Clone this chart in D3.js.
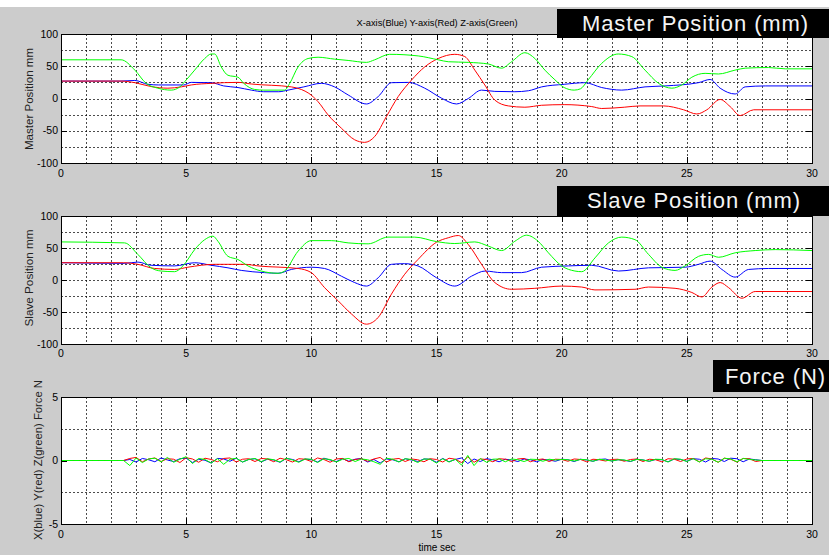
<!DOCTYPE html>
<html><head><meta charset="utf-8">
<script src="https://cdn.jsdelivr.net/npm/d3@7"></script>
<style>
html,body{margin:0;padding:0;background:#cccccc;}
svg{display:block;font-family:"Liberation Sans",Arial,sans-serif;}
.narrow{font-family:"Liberation Sans Narrow","Liberation Sans",Arial,sans-serif;}
</style></head>
<body><svg id="chart" width="829" height="555"></svg>
<script>
// ---------------- data ----------------
const timeTicks = [0,5,10,15,20,25,30];
const posTicks = [100,50,0,-50,-100];
const forceTicks = [5,0,-5];
const seriesColors = {x:"#0000ff", y:"#ff0000", z:"#00ff00"};
const legendText = "X-axis(Blue) Y-axis(Red) Z-axis(Green)";
const titles = ["Master Position (mm)","Slave Position (mm)","Force (N)"];
const yLabels = ["Master Position mm","Slave Position mm","X(blue) Y(red) Z(green) Force N"];
const xLabel = "time sec";

const masterX = [[0,27],[2.4,27],[2.95,28],[3.47,22],[3.9,21],[4.9,21],[5.2,25],[6,24.5],[6.5,19.5],[7.07,17],[7.6,13],[8.1,10.5],[8.7,10.5],[9.07,13],[9.7,18],[10.4,23.5],[10.93,18],[11.47,5.5],[12.2,-8.5],[12.67,3],[13.2,24.5],[13.87,25],[14.53,16],[15.2,0.5],[15.8,-8.5],[16.27,0],[16.8,13],[17.33,11],[18.13,10.5],[18.67,12],[19.2,18],[20.1,22],[20.93,24.5],[21.6,17],[22.4,13],[23.33,18],[24.13,19.5],[25.46,24.5],[25.93,29.5],[26.33,16],[26.93,7],[27.33,18],[28.13,19.5],[30,19.5]];
const masterY = [[0,27],[2.4,27],[2.95,24.5],[3.6,18.5],[4.27,16],[4.8,18],[5.2,21],[6,23.5],[7.07,25],[7.6,22.5],[9.2,18],[9.6,14],[9.9,8],[10.27,-5],[10.67,-25.5],[11.2,-46],[11.73,-64],[12.13,-68],[12.53,-59],[13,-28],[13.47,3],[14,28.5],[14.53,49],[15.07,62],[15.73,68.5],[16.13,65],[16.53,44],[16.93,21],[17.33,-2.5],[17.87,-11.5],[18.53,-13.5],[19.2,-10.5],[20.1,-9.5],[21.2,-12.5],[21.6,-15.5],[22.5,-13.5],[23.13,-11.5],[24.07,-11.5],[24.87,-17.5],[25.4,-24],[25.8,-17.5],[26.33,-1.5],[26.73,-12.5],[27.13,-26.5],[27.67,-17.5],[30,-17.5]];
const masterZ = [[0,60],[2.4,60],[2.95,44],[3.4,23.5],[3.87,16],[4.4,13],[4.75,18],[4.94,26],[5.34,44],[5.74,62],[6,69],[6.14,69],[6.4,49],[6.67,36],[7.07,33],[7.3,23.5],[7.74,14],[8.1,13],[8.93,13],[9.13,23],[9.47,49],[9.87,62],[10.27,64],[10.93,61],[11.47,59],[12.2,56],[12.53,60],[13.13,68.5],[14.27,66],[15.07,60],[15.47,57],[16.27,56],[17.07,53.5],[17.6,47],[18,57],[18.53,71],[18.93,62],[19.33,44],[19.73,29],[20.1,17],[20.5,13],[20.75,15],[21.06,29],[21.6,54.5],[22.26,69],[22.8,65],[23.33,44],[23.87,23.5],[24.4,16],[24.8,21],[25.2,33],[25.73,39],[26.26,38],[26.93,44],[27.33,47],[28.26,48],[28.93,46],[30,46]];

const slaveX = [[0,27],[2.54,26],[3.07,28],[3.6,23],[4.54,22],[5.34,27],[6,23],[6.67,19],[7.2,15],[8.13,11.5],[8.67,10.5],[9.2,16.5],[10,20],[10.53,18],[11.2,6],[11.73,-4],[12.2,-9.5],[12.67,3.5],[13.2,24.5],[13.73,25.5],[14.26,22],[15,3.5],[15.73,-9.5],[16.4,6],[16.94,14],[17.6,11.5],[18.4,11.5],[19.2,20],[20.27,22],[21.2,23],[22.27,14],[23.47,19],[24.93,20],[25.47,24.5],[25.93,29.5],[26.4,16.5],[26.93,4.5],[27.47,16.5],[28.27,18],[30,18]];
const slaveY = [[0,27],[2.5,27],[3.07,24.5],[3.74,18],[4.54,16.5],[5.07,20],[6.14,24.5],[7.34,24.5],[7.87,22],[9.47,18],[10,11.5],[10.53,-12],[11.07,-32.5],[11.6,-53],[12.2,-69],[12.67,-58.5],[13.2,-22],[13.73,9],[14.26,32],[15,59],[15.47,66],[15.87,69.5],[16.27,55.5],[16.8,24.5],[17.33,-4],[18,-14.5],[18.93,-13],[20,-9.5],[20.8,-11],[21.33,-15.5],[22.93,-14.5],[23.47,-11],[24.53,-13],[25.2,-19.5],[25.6,-26.5],[26,-11],[26.33,-4],[26.67,-12],[27.2,-28.5],[27.73,-18],[30,-18]];
const slaveZ = [[0,59.5],[2.54,58],[3.07,40],[3.6,19],[4,14],[4.54,13],[4.87,22],[5.34,47.5],[5.74,63],[6.07,68.5],[6.27,60.5],[6.67,37],[7.07,32],[7.47,22],[8,14],[8.67,10.5],[8.93,14],[9.47,45],[10,61.5],[10.8,61.5],[11.47,58],[12.27,56.5],[13.06,67],[14.13,67],[15,60],[15.73,57],[16.53,59.5],[17.07,53],[17.6,46],[18.13,60.5],[18.6,70],[19.06,60.5],[19.47,42.5],[20,22],[20.53,14],[20.8,13],[21.33,34.5],[21.87,58],[22.4,67],[22.93,63],[23.47,40],[24,20],[24.53,15],[24.93,22],[25.47,37],[25.87,40],[26.27,35.5],[26.93,42.5],[27.73,46],[28.53,47.5],[30,46]];

// force samples every 0.25 s from 0 to 30 s
const forceStep = 0.25;
const forceX = [0,0,0,0,0,0,0,0,0,0,0,
 0.08,-0.12,0.16,0.06,-0.1,0.2,0.04,-0.08,0.14,0.18,
 -0.16,0.1,0.02,-0.2,0.16,0.12,-0.06,0.18,-0.12,0.08,
 0.14,-0.1,0.1,0.04,-0.14,0.16,0.08,-0.1,0.12,0.06,
 -0.12,0.18,0.04,-0.08,0.14,-0.06,0.1,0.16,-0.12,0.08,
 -0.2,0.12,0.06,-0.1,0.14,0.04,-0.08,0.12,0.1,-0.14,
 0.16,-0.1,0.08,0.2,-0.24,0.12,-0.08,0.14,0.06,-0.1,
 0.1,0.04,-0.08,0.12,0.06,-0.1,0.08,0.04,-0.06,0.1,
 0.06,-0.08,0.1,0.04,-0.06,0.08,0.12,-0.04,0.06,0.02,
 -0.08,0.1,0.04,-0.06,0.08,0.06,-0.1,0.12,0.08,-0.06,
 0.14,0.1,-0.12,0.16,0.12,-0.08,0.18,0.14,-0.1,0.12,
 0.06,0,0,0,0,0,0,0,0,0];
const forceY = [0,0,0,0,0,0,0,0,0,0,0,
 0.16,0.24,-0.1,0.12,0.2,-0.08,0.14,0.1,-0.16,0.22,
 0.12,-0.14,0.18,0.08,-0.1,0.16,0.2,-0.12,0.1,0.14,
 -0.08,0.16,0.12,-0.1,0.18,0.06,-0.12,0.14,0.1,-0.08,
 0.2,0.08,-0.14,0.12,0.16,-0.1,0.08,0.14,-0.06,0.12,
 0.24,-0.12,0.1,0.16,-0.08,0.12,0.06,-0.1,0.14,0.08,
 -0.12,0.18,0.1,-0.16,0.28,-0.14,0.12,0.08,-0.1,0.14,
 0.1,-0.08,0.12,0.16,-0.1,0.06,0.12,-0.08,0.1,0.08,
 -0.06,0.12,0.08,-0.1,0.1,0.06,-0.04,0.08,0.1,-0.06,
 0.08,0.12,-0.08,0.1,0.06,-0.1,0.14,0.1,-0.08,0.12,
 0.16,-0.1,0.2,0.12,-0.14,0.18,0.1,-0.12,0.16,0.14,
 -0.08,0,0,0,0,0,0,0,0,0];
const forceZ = [0,0,0,0,0,0,0,0,0,0,0,
 -0.4,0.2,-0.16,0.12,0.18,-0.1,0.24,-0.14,0.1,0.3,
 -0.24,0.16,0.08,-0.2,0.14,-0.3,0.1,0.18,-0.12,0.08,
 0.16,-0.1,0.14,0.06,-0.12,0.18,0.04,-0.14,0.12,0.1,
 -0.16,0.14,0.08,-0.12,0.1,0.16,-0.08,0.12,0.06,-0.1,
 -0.3,0.18,0.1,-0.12,0.14,0.08,-0.16,0.12,0.1,-0.2,
 0.14,-0.12,0.1,-0.36,0.4,-0.4,0.16,-0.14,0.1,0.12,
 -0.1,0.12,0.06,-0.08,0.1,0.08,-0.06,0.1,0.04,0.08,
 0.06,-0.04,0.08,0.06,-0.06,0.1,0.04,-0.04,0.06,0.04,
 -0.06,0.08,0.04,-0.06,0.1,0.08,-0.12,0.14,0.1,-0.08,
 0.16,-0.12,0.14,0.1,-0.14,0.18,0.12,-0.1,0.16,0.08,
 0.04,0,0,0,0,0,0,0,0,0];

// ---------------- drawing ----------------
const svg = d3.select("#chart");
svg.append("rect").attr("x",0).attr("y",0).attr("width",829).attr("height",555).attr("fill","#cccccc");
svg.append("rect").attr("x",0).attr("y",0).attr("width",829).attr("height",7).attr("fill","#ffffff");

const x = d3.scaleLinear().domain([0,30]).range([61,812]);

const toPairs = arr => arr.map((v,i)=>[i*forceStep, v]);

const panels = [
  {top:34, bottom:163, domain:[-100,100], ticks:posTicks, grid:d3.range(-75,100,25),
   series:[[masterX,"x"],[masterY,"y"],[masterZ,"z"]], xlabY:177,
   box:{x:557,y:9,w:272,h:29}, titleX:582, titleY:31, ylab:{x:33,y:99,len:102}},
  {top:216, bottom:344, domain:[-100,100], ticks:posTicks, grid:d3.range(-75,100,25),
   series:[[slaveX,"x"],[slaveY,"y"],[slaveZ,"z"]], xlabY:357,
   box:{x:557,y:186,w:272,h:30}, titleX:587, titleY:208, ylab:{x:33,y:278,len:97}},
  {top:397, bottom:524, domain:[-5,5], ticks:forceTicks, grid:[-2.5,2.5],
   series:[[toPairs(forceX),"x"],[toPairs(forceY),"y"],[toPairs(forceZ),"z"]], xlabY:538,
   box:{x:713,y:360,w:116,h:32}, titleX:725, titleY:384, ylab:{x:42,y:460,len:160}}
];

panels.forEach((p,pi)=>{
  const y = d3.scaleLinear().domain(p.domain).range([p.bottom,p.top]);
  const g = svg.append("g");
  g.append("rect").attr("x",x(0)).attr("y",p.top).attr("width",x(30)-x(0)).attr("height",p.bottom-p.top).attr("fill","#ffffff");

  // grid
  const gx = d3.range(1,30,1);
  g.selectAll(null).data(gx).enter().append("line")
    .attr("x1",d=>Math.round(x(d))+0.5).attr("x2",d=>Math.round(x(d))+0.5)
    .attr("y1",p.top).attr("y2",p.bottom)
    .attr("stroke","#000").attr("stroke-opacity",0.7).attr("stroke-dasharray","2,2");
  g.selectAll(null).data(p.grid).enter().append("line")
    .attr("y1",d=>Math.round(y(d))+0.5).attr("y2",d=>Math.round(y(d))+0.5)
    .attr("x1",x(0)).attr("x2",x(30))
    .attr("stroke","#000").attr("stroke-opacity",0.7).attr("stroke-dasharray","2,2");

  // clip
  const cid = "clip"+pi;
  svg.append("clipPath").attr("id",cid).append("rect")
    .attr("x",x(0)).attr("y",p.top).attr("width",x(30)-x(0)).attr("height",p.bottom-p.top);

  const line = d3.line().x(d=>x(d[0])).y(d=>y(d[1]));
  if (pi<2) line.curve(d3.curveMonotoneX);
  p.series.forEach(([data,key])=>{
    g.append("path").attr("d",line(data)).attr("fill","none")
      .attr("stroke",seriesColors[key]).attr("stroke-width",1)
      .attr("clip-path",`url(#${cid})`);
  });

  // frame
  g.append("rect").attr("x",Math.round(x(0))+0.5).attr("y",p.top+0.5)
    .attr("width",Math.round(x(30))-Math.round(x(0))).attr("height",p.bottom-p.top)
    .attr("fill","none").attr("stroke","#000").attr("stroke-width",1);

  // ticks (inward)
  const tl = 6;
  timeTicks.forEach(t=>{
    const xx = Math.round(x(t))+0.5;
    g.append("line").attr("x1",xx).attr("x2",xx).attr("y1",p.bottom).attr("y2",p.bottom-tl).attr("stroke","#000");
    g.append("line").attr("x1",xx).attr("x2",xx).attr("y1",p.top).attr("y2",p.top+tl).attr("stroke","#000");
  });
  p.ticks.forEach(v=>{
    const yy = Math.round(y(v))+0.5;
    g.append("line").attr("x1",x(0)).attr("x2",x(0)+tl).attr("y1",yy).attr("y2",yy).attr("stroke","#000");
    g.append("line").attr("x1",x(30)).attr("x2",x(30)-tl).attr("y1",yy).attr("y2",yy).attr("stroke","#000");
  });

  // tick labels
  g.selectAll(null).data(timeTicks).enter().append("text").attr("class","narrow")
    .attr("x",d=>x(d)).attr("y",p.xlabY).attr("text-anchor","middle")
    .attr("font-size",10.5).attr("fill","#000").text(d=>d);
  g.selectAll(null).data(p.ticks).enter().append("text").attr("class","narrow")
    .attr("x",58).attr("y",d=>y(d)+3.5).attr("text-anchor","end")
    .attr("font-size",10.5).attr("fill","#000").text(d=>d);

  // y label
  g.append("text").attr("transform",`translate(${p.ylab.x},${p.ylab.y}) rotate(-90)`)
    .attr("text-anchor","middle").attr("font-size",10).attr("fill","#222")
    .attr("textLength",p.ylab.len).attr("lengthAdjust","spacingAndGlyphs")
    .text(yLabels[pi]);

  // title box
  svg.append("rect").attr("x",p.box.x).attr("y",p.box.y).attr("width",p.box.w).attr("height",p.box.h).attr("fill","#000");
  svg.append("text").attr("x",p.titleX).attr("y",p.titleY).attr("font-size",22)
    .attr("letter-spacing",0.9).attr("fill","#f4f4f4").text(titles[pi]);
});

// legend text
svg.append("text").attr("class","narrow").attr("x",437).attr("y",26).attr("text-anchor","middle")
  .attr("font-size",9.5).attr("textLength",161).attr("lengthAdjust","spacingAndGlyphs")
  .attr("fill","#000").text(legendText);

// x label
svg.append("text").attr("class","narrow").attr("x",437).attr("y",551).attr("text-anchor","middle")
  .attr("font-size",10).attr("fill","#000").text(xLabel);
</script>
</body></html>
